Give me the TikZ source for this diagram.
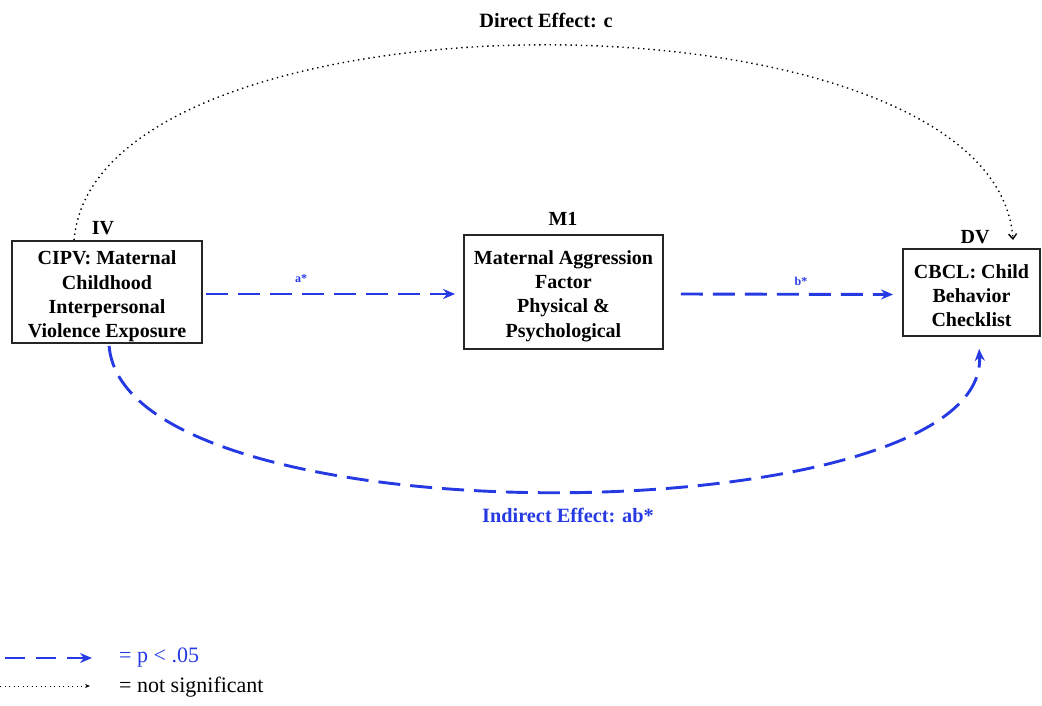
\documentclass[tikz,border=0pt]{standalone}
\usepackage{fontspec}
\setmainfont{Liberation Serif}
\usetikzlibrary{arrows.meta,calc}
\definecolor{sigblue}{RGB}{38,58,228}
\tikzset{
  x=1pt,y=-1pt,
  varbox/.style={draw=black!85,line width=1.8pt,inner sep=0pt},
  vartext/.style={align=center,inner sep=0pt,
    font=\fontsize{20}{24.3}\selectfont\bfseries},
  role/.style={font=\fontsize{20}{22}\selectfont\bfseries,inner sep=0pt},
  sig/.style={draw=sigblue,line width=2.9pt,dash pattern=on 22pt off 10pt,
    -{Stealth[length=12pt,width=10pt]}},
  ns/.style={draw=black,line width=1.4pt,dash pattern=on 1.4pt off 3.8pt,
    -{Straight Barb[length=5pt,width=8pt]}},
  pathlab/.style={font=\fontsize{12}{14}\selectfont\bfseries,text=sigblue,inner sep=0pt},
  efflab/.style={font=\fontsize{20.3}{22}\selectfont\bfseries,inner sep=0pt},
  legtext/.style={font=\fontsize{22}{24}\selectfont,inner sep=0pt,anchor=west}
}
\begin{document}
\begin{tikzpicture}
\useasboundingbox (0,0) rectangle (1042,705);
% boxes
\node[varbox,minimum width=190pt,minimum height=102pt] (iv) at (107,292) {};
\node[vartext] (ivtext) at (107,296.5)
  {CIPV: Maternal\\Childhood\\Interpersonal\\Violence Exposure};
\node[varbox,minimum width=199pt,minimum height=114pt] (m1) at (563.5,292) {};
\node[vartext] (m1text) at (563.5,296)
  {Maternal Aggression\\Factor\\Physical \&\\Psychological};
\node[varbox,minimum width=137pt,minimum height=87pt] (dv) at (971.5,292.5) {};
\node[vartext] (dvtext) at (971.5,295.5)
  {CBCL: Child\\Behavior\\Checklist};
% role labels
\node[role] (ivlab) at (103,228) {IV};
\node[role] (m1lab) at (563,219) {M1};
\node[role] (dvlab) at (975,237) {DV};
% coordinates for curve ends
\coordinate (dstart) at ($(iv.north west)+(63,0)$);
\coordinate (dend) at (1013,240);
\coordinate (istart) at ($(iv.south west)+(98,2)$);
\coordinate (iend) at ($(dv.south west)+(77,12)$);
% a and b paths
\draw[sig] ($(iv.east)+(3,2)$) -- ($(m1.west)+(-8,2)$);
\node[pathlab] (alab) at (301,279) {a*};
\draw[sig] ($(m1.east)+(17,2)$) -- ($(dv.west)+(-9,2)$);
\node[pathlab] (blab) at (801,281) {b*};
% direct effect
\draw[ns] (dstart) .. controls (95,-20) and (995,-20) .. (dend);
\node[efflab] (dlab) at (546,20) {Direct Effect: c};
% indirect effect
\draw[sig] (istart) .. controls (125,545) and (990,535) .. (iend);
\node[efflab,text=sigblue] (ilab) at (568,515) {Indirect Effect: ab*};
% legend
\coordinate (l1a) at (5,658);
\coordinate (l1b) at (92,658);
\draw[sig,dash pattern=on 20pt off 11pt] (l1a) -- (l1b);
\node[legtext,text=sigblue] (lt1) at (119,658) {= p < .05};
\coordinate (l2a) at (0,686);
\coordinate (l2b) at (90,686);
\draw[draw=black,line width=0.9pt,dash pattern=on 1pt off 3.5pt,-{Stealth[length=5pt,width=4pt]}] (l2a) -- (l2b);
\node[legtext] (lt2) at (119,687) {= not significant};
\end{tikzpicture}
\end{document}
